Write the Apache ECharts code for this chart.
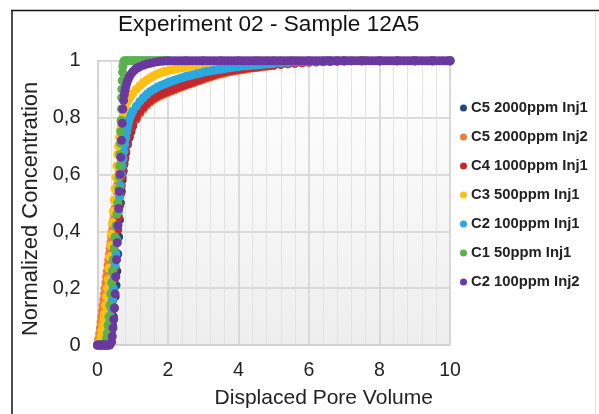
<!DOCTYPE html>
<html>
<head>
<meta charset="utf-8">
<script src="https://cdn.jsdelivr.net/npm/echarts@6/dist/echarts.min.js"></script>
<style>html,body{margin:0;padding:0;background:#fff;}#c{width:599px;height:414px;}</style>
</head>
<body>
<div id="c"></div>
<script>
const titleText = 'Experiment 02 - Sample 12A5';
const xName = 'Displaced Pore Volume';
const yName = 'Normalized Concentration';
const seriesNames = ['C5 2000ppm Inj1','C5 2000ppm Inj2','C4 1000ppm Inj1','C3 500ppm Inj1','C2 100ppm Inj1','C1 50ppm Inj1','C2 100ppm Inj2'];
const colors = ['#1d4a7a','#f07b34','#c4282e','#fdbf12','#2aa8e0','#5ab14e','#6b38a0'];

const c5Inj1 = [[0,0],[0.05,0],[0.1,0],[0.15,0],[0.2,0],[0.25,0],[0.3,0],[0.35,0.02],[0.375,0.03],[0.4,0.05],[0.425,0.07],[0.45,0.1],[0.475,0.13],[0.5,0.17],[0.525,0.21],[0.55,0.26],[0.575,0.32],[0.6,0.38],[0.625,0.44],[0.65,0.5],[0.675,0.54],[0.7,0.58],[0.725,0.61],[0.75,0.635],[0.775,0.655],[0.8,0.675],[0.85,0.705],[0.9,0.73],[0.95,0.75],[1.0,0.77],[1.1,0.795],[1.2,0.815],[1.3,0.832],[1.4,0.846],[1.5,0.858],[1.6,0.868],[1.7,0.876],[1.8,0.882],[1.9,0.888],[2.0,0.893],[2.1,0.898],[2.2,0.903],[2.3,0.908],[2.4,0.913],[2.5,0.917],[2.6,0.922],[2.7,0.926],[2.8,0.931],[2.9,0.935],[3.0,0.939],[3.1,0.943],[3.2,0.947],[3.3,0.951],[3.4,0.955],[3.5,0.958],[3.6,0.961],[3.7,0.964],[3.8,0.966],[3.9,0.968],[4.0,0.97],[4.1,0.972],[4.2,0.974],[4.3,0.975],[4.4,0.977],[4.5,0.978],[4.6,0.98],[4.7,0.981],[4.8,0.983],[4.9,0.984],[5.0,0.985],[5.2,0.988],[5.4,0.99],[5.6,0.992],[5.8,0.994],[6.0,0.995],[6.2,0.996],[6.4,0.997],[6.6,0.998],[6.8,0.999],[7.0,1],[7.5,1],[8.0,1],[8.5,1],[9.0,1],[9.5,1],[10,1]];
const c5Inj2 = [[0,0],[0.03,0.02],[0.06,0.04],[0.08,0.06],[0.1,0.08],[0.12,0.1],[0.14,0.12],[0.16,0.14],[0.18,0.16],[0.2,0.18],[0.22,0.2],[0.24,0.22],[0.26,0.24],[0.28,0.26],[0.3,0.28],[0.32,0.3],[0.34,0.32],[0.36,0.34],[0.38,0.36],[0.4,0.38],[0.42,0.4],[0.44,0.42],[0.46,0.44],[0.48,0.46],[0.5,0.48],[0.525,0.51],[0.55,0.54],[0.575,0.565],[0.6,0.59],[0.625,0.61],[0.65,0.63],[0.675,0.645],[0.7,0.66],[0.725,0.675],[0.75,0.69],[0.775,0.703],[0.8,0.715],[0.85,0.735],[0.9,0.752],[0.95,0.767],[1.0,0.78],[1.1,0.797],[1.2,0.815],[1.3,0.83],[1.4,0.843],[1.5,0.854],[1.6,0.863],[1.7,0.871],[1.8,0.877],[1.9,0.883],[2.0,0.888],[2.1,0.893],[2.2,0.898],[2.3,0.903],[2.4,0.908],[2.5,0.912],[2.6,0.917],[2.7,0.921],[2.8,0.926],[2.9,0.93],[3.0,0.934],[3.1,0.938],[3.2,0.942],[3.3,0.946],[3.4,0.95],[3.5,0.953],[3.6,0.956],[3.7,0.959],[3.8,0.962],[3.9,0.964],[4.0,0.966],[4.1,0.968],[4.2,0.97],[4.3,0.972],[4.4,0.974],[4.5,0.976],[4.6,0.977],[4.7,0.979],[4.8,0.98],[4.9,0.982],[5.0,0.983],[5.2,0.986],[5.4,0.988],[5.6,0.99],[5.8,0.992],[6.0,0.994],[6.2,0.995],[6.4,0.996],[6.6,0.997],[6.8,0.998],[7.0,0.999],[7.2,1],[7.6,1],[8.0,1],[8.5,1],[9.0,1],[9.5,1],[10,1]];
const c4Inj1 = [[0,0],[0.05,0],[0.1,0],[0.15,0],[0.2,0],[0.25,0],[0.3,0.02],[0.325,0.04],[0.35,0.06],[0.375,0.09],[0.4,0.12],[0.425,0.155],[0.45,0.19],[0.475,0.23],[0.5,0.27],[0.525,0.315],[0.55,0.36],[0.575,0.405],[0.6,0.45],[0.625,0.49],[0.65,0.53],[0.675,0.56],[0.7,0.59],[0.725,0.615],[0.75,0.64],[0.775,0.66],[0.8,0.68],[0.85,0.71],[0.9,0.735],[0.95,0.757],[1.0,0.775],[1.1,0.8],[1.2,0.82],[1.3,0.836],[1.4,0.849],[1.5,0.86],[1.6,0.869],[1.7,0.876],[1.8,0.882],[1.9,0.887],[2.0,0.892],[2.1,0.897],[2.2,0.902],[2.3,0.907],[2.4,0.911],[2.5,0.916],[2.6,0.92],[2.7,0.925],[2.8,0.929],[2.9,0.933],[3.0,0.938],[3.1,0.942],[3.2,0.946],[3.3,0.95],[3.4,0.954],[3.5,0.957],[3.6,0.96],[3.7,0.963],[3.8,0.965],[3.9,0.967],[4.0,0.969],[4.1,0.971],[4.2,0.973],[4.3,0.975],[4.4,0.976],[4.5,0.978],[4.6,0.979],[4.7,0.981],[4.8,0.982],[4.9,0.983],[5.0,0.985],[5.2,0.987],[5.4,0.99],[5.6,0.992],[5.8,0.993],[6.0,0.995],[6.2,0.996],[6.4,0.997],[6.6,0.998],[6.8,0.999],[7.0,1],[7.5,1],[8.0,1],[8.5,1],[9.0,1],[9.5,1],[10,1]];
const c3Inj1 = [[0,0],[0.05,0.01],[0.1,0.03],[0.125,0.05],[0.15,0.07],[0.175,0.09],[0.2,0.11],[0.225,0.14],[0.25,0.17],[0.275,0.2],[0.3,0.23],[0.325,0.27],[0.35,0.31],[0.375,0.35],[0.4,0.39],[0.425,0.43],[0.45,0.47],[0.475,0.51],[0.5,0.55],[0.525,0.59],[0.55,0.63],[0.575,0.67],[0.6,0.7],[0.625,0.73],[0.65,0.755],[0.675,0.775],[0.7,0.79],[0.725,0.805],[0.75,0.818],[0.775,0.83],[0.8,0.84],[0.85,0.855],[0.9,0.866],[0.95,0.876],[1.0,0.885],[1.1,0.9],[1.2,0.912],[1.3,0.923],[1.4,0.932],[1.5,0.94],[1.6,0.947],[1.7,0.953],[1.8,0.958],[1.9,0.962],[2.0,0.965],[2.1,0.968],[2.2,0.97],[2.3,0.973],[2.4,0.975],[2.5,0.977],[2.6,0.979],[2.7,0.981],[2.8,0.983],[2.9,0.985],[3.0,0.986],[3.1,0.987],[3.2,0.988],[3.3,0.989],[3.4,0.99],[3.5,0.991],[3.6,0.992],[3.7,0.993],[3.8,0.994],[3.9,0.995],[4.0,0.996],[4.2,0.997],[4.4,0.998],[4.6,0.999],[4.8,1],[5.2,1],[5.6,1],[6.0,1],[6.5,1],[7.0,1],[7.5,1],[8.0,1],[8.5,1],[9.0,1],[9.5,1],[10,1]];
const c2Inj1 = [[0,0],[0.05,0],[0.1,0],[0.15,0],[0.2,0],[0.25,0.01],[0.3,0.04],[0.325,0.06],[0.35,0.08],[0.375,0.1],[0.4,0.13],[0.425,0.16],[0.45,0.2],[0.475,0.24],[0.5,0.28],[0.525,0.32],[0.55,0.37],[0.575,0.42],[0.6,0.47],[0.625,0.52],[0.65,0.56],[0.675,0.6],[0.7,0.63],[0.725,0.655],[0.75,0.68],[0.775,0.705],[0.8,0.728],[0.825,0.748],[0.85,0.765],[0.875,0.78],[0.9,0.793],[0.95,0.809],[1.0,0.822],[1.1,0.84],[1.2,0.856],[1.3,0.87],[1.4,0.882],[1.5,0.892],[1.6,0.9],[1.7,0.907],[1.8,0.913],[1.9,0.918],[2.0,0.923],[2.1,0.928],[2.2,0.932],[2.3,0.936],[2.4,0.94],[2.5,0.944],[2.6,0.947],[2.7,0.95],[2.8,0.953],[2.9,0.956],[3.0,0.959],[3.1,0.962],[3.2,0.964],[3.3,0.966],[3.4,0.968],[3.5,0.97],[3.6,0.972],[3.7,0.974],[3.8,0.976],[3.9,0.978],[4.0,0.979],[4.1,0.981],[4.2,0.982],[4.3,0.983],[4.4,0.984],[4.5,0.985],[4.6,0.986],[4.7,0.987],[4.8,0.988],[4.9,0.989],[5.0,0.99],[5.2,0.992],[5.4,0.993],[5.6,0.995],[5.8,0.996],[6.0,0.997],[6.2,0.998],[6.4,0.999],[6.6,1],[7.0,1],[7.5,1],[8.0,1],[8.5,1],[9.0,1],[9.5,1],[10,1]];
const c1Inj1 = [[0,0],[0.05,0],[0.1,0],[0.15,0],[0.2,0],[0.25,0.02],[0.275,0.04],[0.3,0.07],[0.325,0.1],[0.35,0.14],[0.375,0.18],[0.4,0.22],[0.425,0.26],[0.45,0.3],[0.475,0.34],[0.5,0.38],[0.525,0.42],[0.55,0.46],[0.575,0.5],[0.6,0.55],[0.615,0.59],[0.63,0.63],[0.64,0.67],[0.65,0.71],[0.66,0.75],[0.67,0.79],[0.68,0.83],[0.685,0.87],[0.69,0.9],[0.7,0.93],[0.71,0.96],[0.72,0.98],[0.74,0.995],[0.76,1],[0.8,1],[0.85,1],[0.9,1],[0.95,1],[1.0,1],[1.05,1],[1.1,1],[1.15,1],[1.2,1],[1.25,1],[1.3,1],[1.35,1],[1.4,1],[1.45,1],[1.5,1],[1.55,1],[1.6,1],[1.65,1],[1.7,1],[1.75,1],[1.8,1],[1.85,1],[1.9,1],[1.95,1],[2.0,1],[2.5,1],[3.0,1],[3.5,1],[4.0,1],[4.5,1],[5.0,1],[5.5,1],[6.0,1],[6.5,1],[7.0,1],[7.5,1],[8.0,1],[8.5,1],[9.0,1],[9.5,1],[10,1]];
const c2Inj2 = [[0,0],[0.05,0],[0.1,0],[0.15,0],[0.2,0],[0.25,0],[0.3,0],[0.35,0],[0.4,0.01],[0.42,0.03],[0.44,0.06],[0.46,0.09],[0.48,0.13],[0.5,0.18],[0.52,0.24],[0.54,0.3],[0.56,0.36],[0.58,0.42],[0.6,0.48],[0.62,0.54],[0.64,0.6],[0.66,0.66],[0.68,0.72],[0.7,0.78],[0.72,0.83],[0.74,0.86],[0.76,0.88],[0.78,0.895],[0.8,0.907],[0.825,0.918],[0.85,0.928],[0.875,0.936],[0.9,0.943],[0.95,0.953],[1.0,0.961],[1.05,0.967],[1.1,0.972],[1.15,0.976],[1.2,0.979],[1.3,0.984],[1.4,0.988],[1.5,0.991],[1.6,0.994],[1.7,0.996],[1.8,0.998],[1.9,0.999],[2.0,1],[2.1,1],[2.2,1],[2.3,1],[2.4,1],[2.5,1],[2.6,1],[2.7,1],[2.8,1],[2.9,1],[3.0,1],[3.1,1],[3.2,1],[3.3,1],[3.4,1],[3.5,1],[3.6,1],[3.7,1],[3.8,1],[3.9,1],[4.0,1],[4.1,1],[4.2,1],[4.3,1],[4.4,1],[4.5,1],[4.6,1],[4.7,1],[4.8,1],[4.9,1],[5.0,1],[5.1,1],[5.2,1],[5.3,1],[5.4,1],[5.5,1],[5.6,1],[5.7,1],[5.8,1],[5.9,1],[6.0,1],[6.1,1],[6.2,1],[6.3,1],[6.4,1],[6.5,1],[6.6,1],[6.7,1],[6.8,1],[6.9,1],[7.0,1],[7.1,1],[7.2,1],[7.3,1],[7.4,1],[7.5,1],[7.6,1],[7.7,1],[7.8,1],[7.9,1],[8.0,1],[8.1,1],[8.2,1],[8.3,1],[8.4,1],[8.5,1],[8.6,1],[8.7,1],[8.8,1],[8.9,1],[9.0,1],[9.1,1],[9.2,1],[9.3,1],[9.4,1],[9.5,1],[9.6,1],[9.7,1],[9.8,1],[9.9,1],[10,1]];
const seriesData = [c5Inj1, c5Inj2, c4Inj1, c3Inj1, c2Inj1, c1Inj1, c2Inj2];

const font = 'Liberation Sans, Arial, sans-serif';
const chart = echarts.init(document.getElementById('c'), null, {renderer:'canvas'});
chart.setOption({
  animation: false,
  backgroundColor: '#fff',
  title: {
    text: titleText, left: 113, top: 8,
    textStyle: {fontFamily: font, fontSize: 22.6, fontWeight: 'normal', color: '#111'}
  },
  legend: {
    orient: 'vertical', left: 455, top: 95,
    icon: 'circle', itemWidth: 7, itemHeight: 7, itemGap: 13,
    textStyle: {fontFamily: font, fontSize: 14.8, fontWeight: 'bold', color: '#222', lineHeight: 16, padding: [0,0,0,-1]},
    data: seriesNames
  },
  grid: {
    left: 97.5, right: 149, top: 60.7, bottom: 67.3, show: true,
    borderColor: '#d4d4d4', borderWidth: 1,
    backgroundColor: {type:'linear', x:0, y:0, x2:0, y2:1, colorStops:[{offset:0,color:'#ffffff'},{offset:1,color:'#eeeeee'}]}
  },
  xAxis: {
    type: 'value', min: 0, max: 10, interval: 2,
    name: xName, nameLocation: 'middle', nameGap: 43,
    nameTextStyle: {fontFamily: font, fontSize: 21, color: '#222', padding: [0,0,0,100]},
    axisLine: {show: true, lineStyle: {color: '#d0d0d0', width: 1.5}},
    axisTick: {show: false},
    axisLabel: {fontFamily: font, fontSize: 19.5, color: '#222', margin: 16},
    splitLine: {show: true, lineStyle: {color: '#d2d2d2', width: 1.5}},
    minorTick: {show: false, splitNumber: 5},
    minorSplitLine: {show: true, lineStyle: {color: '#e3e3e3', width: 1}}
  },
  yAxis: {
    type: 'value', min: 0, max: 1, interval: 0.2,
    name: yName, nameLocation: 'middle', nameGap: 51, nameRotate: 90,
    nameTextStyle: {fontFamily: font, fontSize: 22, color: '#222', padding: [0,12,0,0]},
    axisLine: {show: true, lineStyle: {color: '#d0d0d0', width: 1.5}},
    axisTick: {show: false},
    axisLabel: {fontFamily: font, fontSize: 20, color: '#222', margin: 17,
      formatter: v => String(Math.round(v*10)/10).replace('.', ',')},
    splitLine: {show: true, lineStyle: {color: '#d2d2d2', width: 1.5}}
  },
  graphic: [
    {type:'line', shape:{x1:11, y1:10.5, x2:599, y2:10.5}, style:{stroke:'#111', lineWidth:1.5}, silent:true},
    {type:'line', shape:{x1:12, y1:10, x2:12, y2:414}, style:{stroke:'#111', lineWidth:1.5}, silent:true},
    {type:'line', shape:{x1:595.5, y1:11, x2:595.5, y2:414}, style:{stroke:'#e2e2e2', lineWidth:1}, silent:true}
  ],
  series: seriesNames.map((n, i) => ({
    name: n, type: 'scatter', data: seriesData[i], symbolSize: 9,
    itemStyle: {color: colors[i], opacity: 1}
  }))
});
</script>
</body>
</html>
